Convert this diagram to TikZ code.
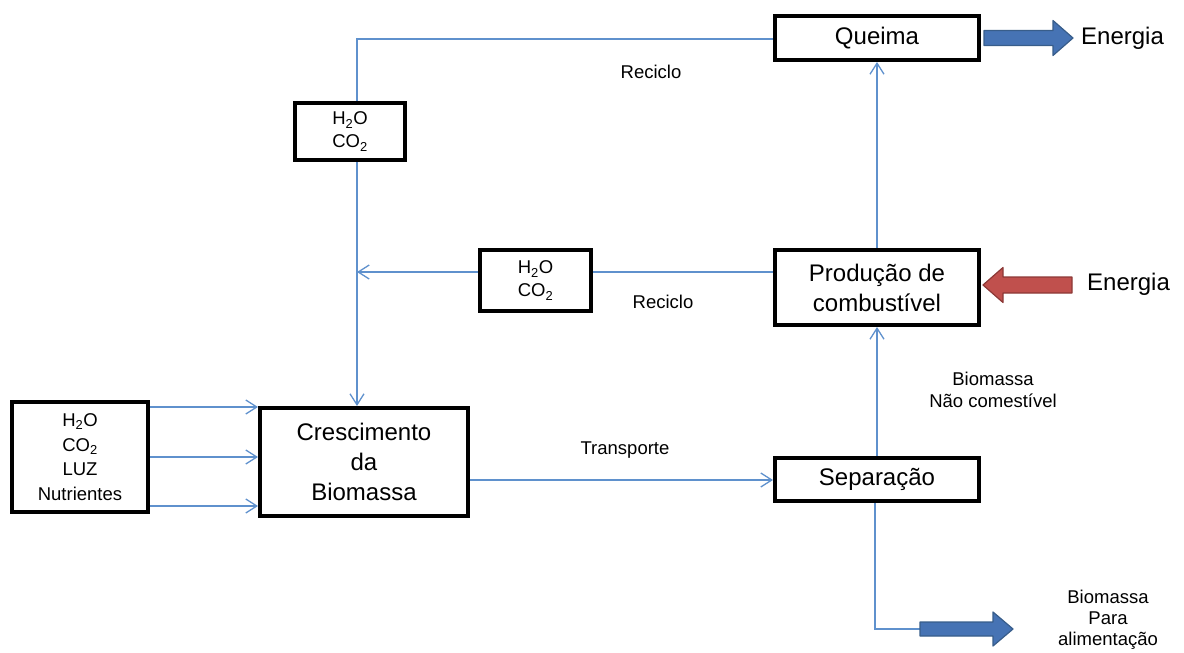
\documentclass[tikz,border=0pt]{standalone}
\usepackage{fontspec}
\setmainfont{Liberation Sans}
\usetikzlibrary{arrows.meta}
\definecolor{flowblue}{RGB}{95,145,205}
\definecolor{blockblue}{RGB}{70,115,180}
\definecolor{blockblueedge}{RGB}{56,93,138}
\definecolor{blockred}{RGB}{192,80,77}
\definecolor{blockrededge}{RGB}{140,56,54}
\tikzset{
  procbox/.style={draw=black, line width=4pt, fill=white, inner sep=0pt, align=center,
    font=\fontsize{24}{30}\selectfont},
  gasbox/.style={draw=black, line width=4pt, fill=white, inner sep=0pt, align=center,
    font=\fontsize{18.5}{23}\selectfont},
  flow/.style={draw=flowblue, line width=1.3pt},
  flowarrow/.style={flow, -{Straight Barb[length=11pt,width=14pt,line width=1.3pt]}},
  smalllabel/.style={inner sep=0pt, align=center, font=\fontsize{18.5}{22}\selectfont},
  biglabel/.style={inner sep=0pt, anchor=west, font=\fontsize{24}{30}\selectfont},
  bluearrow/.style={fill=blockblue, draw=blockblueedge, line width=1.2pt, line join=round},
  redarrow/.style={fill=blockred, draw=blockrededge, line width=1.2pt, line join=round}
}
\begin{document}
\begin{tikzpicture}[x=1pt,y=-1pt]
\useasboundingbox (0,0) rectangle (1184,653);

% process boxes
\node[procbox, minimum width=204pt, minimum height=44pt] (queima) at (877,38) {Queima};
\node[procbox, minimum width=204pt, minimum height=75pt] (prod) at (877,287.5) {Produção de\\combustível};
\node[procbox, minimum width=204pt, minimum height=43pt] (sep) at (877,479.5) {Separação};
\node[procbox, minimum width=208pt, minimum height=108pt] (cresc) at (364,462) {Crescimento\\da\\Biomassa};

% gas / input boxes
\node[gasbox, minimum width=110pt, minimum height=57pt] (gasA) at (350,131.5) {H\textsubscript{2}O\\CO\textsubscript{2}};
\node[gasbox, minimum width=111pt, minimum height=61pt] (gasB) at (535.5,280.5) {H\textsubscript{2}O\\CO\textsubscript{2}};
\node[gasbox, minimum width=136pt, minimum height=110pt, font=\fontsize{18.5}{24.5}\selectfont] (inputs) at (80,457) {H\textsubscript{2}O\\CO\textsubscript{2}\\LUZ\\Nutrientes};

% recycle loop from the burner
\coordinate (topcorner) at (357,39);
\draw[flow] (queima.west |- topcorner) -- (topcorner) -- (topcorner |- gasA.north);
\draw[flowarrow] (topcorner |- gasA.south) -- (topcorner |- cresc.north);

% recycle loop from fuel production
\coordinate (midjoin) at (357,272);
\draw[flow] (prod.west |- midjoin) -- (gasB.east |- midjoin);
\draw[flowarrow] (gasB.west |- midjoin) -- (midjoin);

% main chain
\draw[flowarrow] (sep.north) -- (prod.south);
\draw[flowarrow] (prod.north) -- (queima.south);
\draw[flowarrow] (cresc.east |- 0,480) -- (sep.west |- 0,480);

% inputs to growth
\foreach \yy in {407,457,506}
  \draw[flowarrow] (inputs.east |- 0,\yy) -- (cresc.west |- 0,\yy);

% food biomass branch
\coordinate (foodcorner) at (875,629);
\coordinate (foodarrow) at (920,629);
\draw[flow] (sep.south -| foodcorner) -- (foodcorner) -- (foodarrow);

% block arrows
\path[bluearrow] (queima.east) ++(3,-7.5) -- ++(69,0) -- ++(0,-10) -- ++(20,17.5)
  -- ++(-20,17.5) -- ++(0,-10) -- ++(-69,0) -- cycle;
\path[redarrow] (983,285) -- ++(20,-17.5) -- ++(0,9.5) -- ++(69,0) -- ++(0,16)
  -- ++(-69,0) -- ++(0,9.5) -- cycle;
\path[bluearrow] (foodarrow) ++(0,-7) -- ++(73,0) -- ++(0,-10) -- ++(20,17)
  -- ++(-20,17) -- ++(0,-10) -- ++(-73,0) -- cycle;

% labels
\node[biglabel] (energiaA) at (1081,38) {Energia};
\node[biglabel] (energiaB) at (1087,284) {Energia};
\node[smalllabel] (recA) at (651,72) {Reciclo};
\node[smalllabel] (recB) at (663,302) {Reciclo};
\node[smalllabel] (transp) at (625,450) {Transporte};
\node[smalllabel] (naocom) at (993,390) {Biomassa\\Não comestível};
\node[smalllabel, font=\fontsize{18.5}{21}\selectfont] (alim) at (1108,620) {Biomassa\\Para\\alimentação};
\end{tikzpicture}
\end{document}
